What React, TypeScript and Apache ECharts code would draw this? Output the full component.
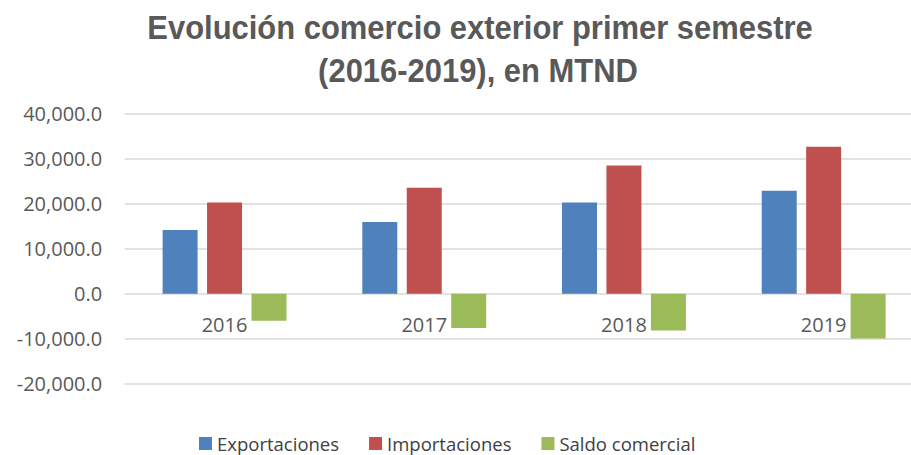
import React, { useEffect, useRef } from "react";
import * as echarts from "echarts";

const categories = ["2016", "2017", "2018", "2019"];
const exportaciones = [14130, 15910, 20290, 22890];
const importaciones = [20290, 23550, 28510, 32670];
const saldoComercial = [-6000, -7640, -8150, -9930];
const seriesNames = ["Exportaciones", "Importaciones", "Saldo comercial"];
const titleLines = ["Evolución comercio exterior primer semestre", "(2016-2019), en MTND"];

export default function App() {
  const ref = useRef<HTMLDivElement>(null);
  useEffect(() => {
    if (!ref.current) return;
    const chart = echarts.init(ref.current, null, { renderer: "svg" });
    const fmt = (v: number) =>
      v.toLocaleString("en-US", { minimumFractionDigits: 1, maximumFractionDigits: 1 });
    const titleStyle = {
      font: "bold 34px 'Liberation Sans', Arial, sans-serif",
      fill: "#595959",
      align: "center",
      verticalAlign: "middle",
    };
    chart.setOption({
      animation: false,
      backgroundColor: "#ffffff",
      graphic: [
        { type: "text", x: 480, y: 27.5, scaleX: 0.91, style: { ...titleStyle, text: titleLines[0] } },
        { type: "text", x: 478, y: 70, scaleX: 0.91, style: { ...titleStyle, text: titleLines[1] } },
      ],
      legend: {
        data: seriesNames,
        bottom: 2,
        left: 199,
        padding: 0,
        icon: "rect",
        itemWidth: 13,
        itemHeight: 13,
        itemGap: 30,
        textStyle: { fontFamily: "Open Sans", fontSize: 18.5, color: "#404040" },
      },
      grid: {
        left: 124.7,
        width: 798.8,
        top: 113.7,
        height: 270,
        containLabel: false,
        outerBoundsMode: "none",
      },
      xAxis: {
        type: "category",
        data: categories,
        offset: -90.4,
        axisLine: { show: false, onZero: false },
        axisTick: { show: false },
        axisLabel: { margin: 21, fontFamily: "Open Sans", fontSize: 20, color: "#595959" },
      },
      yAxis: {
        type: "value",
        min: -20000,
        max: 40000,
        interval: 10000,
        axisLine: { show: false },
        axisTick: { show: false },
        splitLine: { lineStyle: { color: "#D9D9D9", width: 1.5 } },
        axisLabel: {
          formatter: fmt,
          margin: 22.5,
          fontFamily: "Open Sans",
          fontSize: 20,
          color: "#595959",
        },
      },
      series: [
        { name: seriesNames[0], type: "bar", data: exportaciones, barWidth: 35, barGap: "27%", itemStyle: { color: "#4F81BD" } },
        { name: seriesNames[1], type: "bar", data: importaciones, barWidth: 35, barGap: "27%", itemStyle: { color: "#C0504D" } },
        { name: seriesNames[2], type: "bar", data: saldoComercial, barWidth: 35, barGap: "27%", itemStyle: { color: "#9BBB59" } },
      ],
    });
    return () => chart.dispose();
  }, []);
  return <div ref={ref} style={{ width: 911, height: 455, position: "fixed", left: 0, top: 0 }} />;
}
